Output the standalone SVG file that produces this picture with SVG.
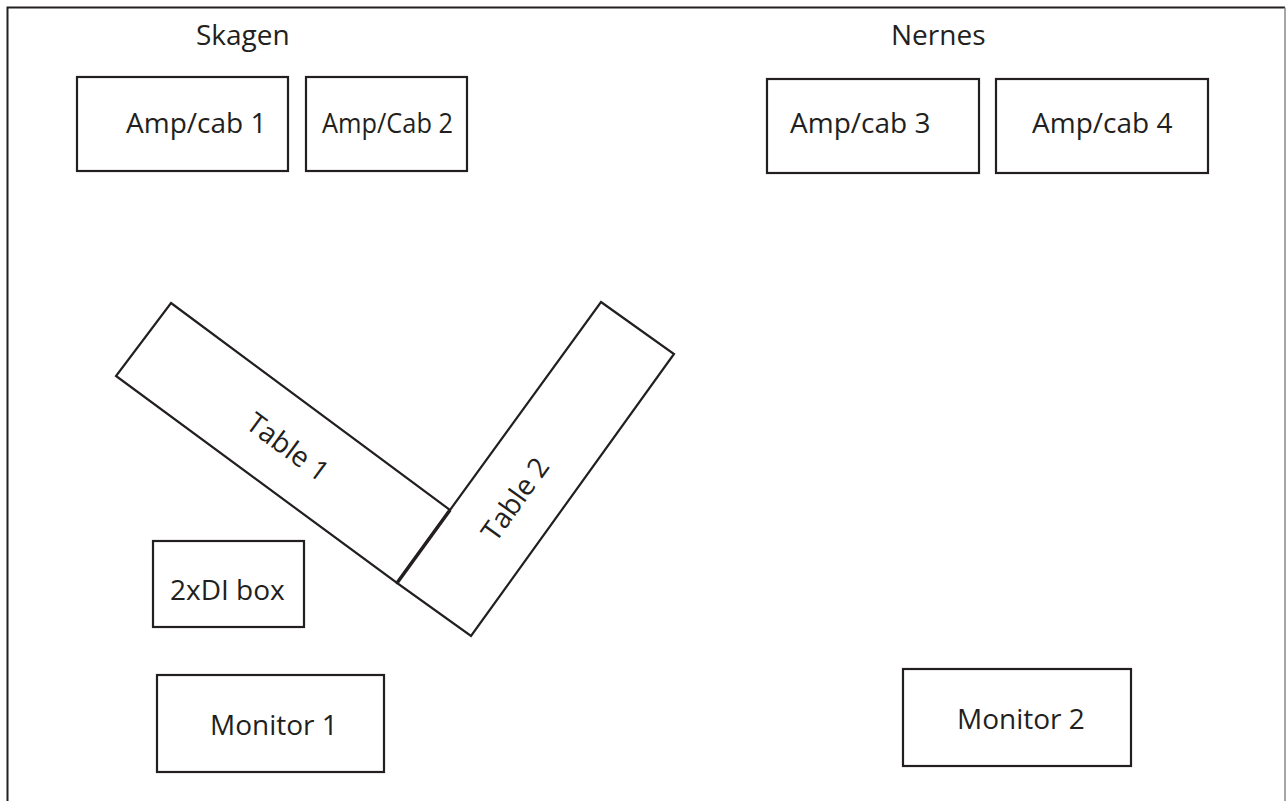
<svg xmlns="http://www.w3.org/2000/svg" width="1287" height="801" viewBox="0 0 1287 801">
<style>
.box{fill:#fff;stroke:#231f20;stroke-width:2.2}
.t{font-family:"Open Sans","Noto Sans",sans-serif;font-size:28px;fill:#231f20}
</style>
<rect width="1287" height="801" fill="#fff"/>
<g id="frame">
<path d="M7.5,801 V7.5 H1285" fill="none" stroke="#231f20" stroke-width="2"/>
<path d="M1285,7.5 V801" fill="none" stroke="#888" stroke-width="1.5"/>
</g>
<g id="label-skagen"><text class="t" x="196" y="45">Skagen</text></g>
<g id="label-nernes"><text class="t" x="891" y="45">Nernes</text></g>
<g id="ampcab1"><rect class="box" x="77" y="77" width="211" height="94"/><text class="t" x="126" y="133">Amp/cab 1</text></g>
<g id="ampcab2"><rect class="box" x="306" y="77" width="161" height="94"/><text class="t" x="322" y="133" textLength="131" lengthAdjust="spacingAndGlyphs">Amp/Cab 2</text></g>
<g id="ampcab3"><rect class="box" x="767" y="79" width="212" height="94"/><text class="t" x="790" y="133">Amp/cab 3</text></g>
<g id="ampcab4"><rect class="box" x="996" y="79" width="212" height="94"/><text class="t" x="1032" y="133">Amp/cab 4</text></g>
<g id="table1"><polygon class="box" points="171,303 450,510 397,583 116,376"/><text class="t" text-anchor="middle" transform="translate(288,447) rotate(36.4)" y="10">Table 1</text></g>
<g id="table2"><polygon class="box" points="601,302 674,354 471,636 397,583"/><line x1="450" y1="510" x2="397" y2="583" stroke="#231f20" stroke-width="3.5"/><text class="t" text-anchor="middle" transform="translate(515,499) rotate(-54.5)" y="10">Table 2</text></g>
<g id="dibox"><rect class="box" x="153" y="541" width="151" height="86"/><text class="t" x="170" y="600">2xDI box</text></g>
<g id="monitor1"><rect class="box" x="157" y="675" width="227" height="97"/><text class="t" x="210" y="735">Monitor 1</text></g>
<g id="monitor2"><rect class="box" x="903" y="669" width="228" height="97"/><text class="t" x="957" y="729">Monitor 2</text></g>
<g id="connectors"/>
</svg>
